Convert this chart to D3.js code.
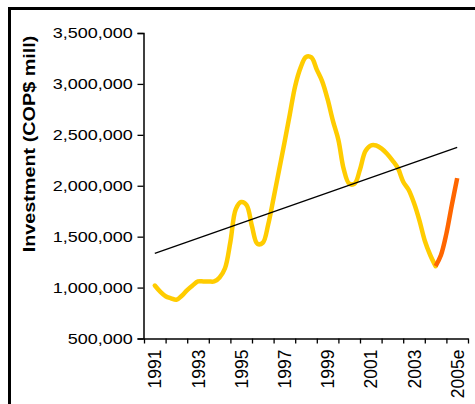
<!DOCTYPE html>
<html>
<head>
<meta charset="utf-8">
<script src="https://cdn.jsdelivr.net/npm/d3@7/dist/d3.min.js"></script>
<style>
  html, body { margin: 0; padding: 0; background: #fff; }
  svg { display: block; }
  text { font-family: "Liberation Sans", Arial, sans-serif; fill: #000; }
</style>
</head>
<body>
<svg id="chart" width="475" height="404"></svg>
<script>
// Yearly categories on the horizontal axis (2005 is an estimate)
const years = ["1991","1992","1993","1994","1995","1996","1997","1998","1999","2000","2001","2002","2003","2004","2005e"];
const labelledYears = ["1991","1993","1995","1997","1999","2001","2003","2005e"];
const yTicks = [500000, 1000000, 1500000, 2000000, 2500000, 3000000, 3500000];

// Quarterly investment (COP$ mill), starting mid-1991
const actualValues = [
  1020000, 960000, 915000, 895000, 880000, 920000, 975000, 1020000,
  1060000, 1060000, 1060000, 1060000, 1100000, 1190000, 1450000, 1770000,
  1840000, 1810000, 1600000, 1430000, 1440000, 1620000, 1880000, 2150000,
  2420000, 2700000, 2980000, 3160000, 3265000, 3260000, 3140000, 3025000,
  2850000, 2635000, 2450000, 2160000, 2020000, 2020000, 2160000, 2340000,
  2395000, 2395000, 2365000, 2315000, 2250000, 2175000, 2040000, 1960000,
  1830000, 1660000, 1460000, 1320000, 1210000
];
// Estimated continuation from mid-2004 (first value repeats the last actual one)
const estimateValues = [1210000, 1320000, 1530000, 1810000, 2075000];

const svg = d3.select("#chart");

// Outer frame
svg.append("rect")
  .attr("x", 9.5).attr("y", 8.5)
  .attr("width", 600).attr("height", 600)
  .attr("fill", "none").attr("stroke", "#000").attr("stroke-width", 3);

const plot = { left: 144, right: 468, top: 33, bottom: 338.5 };

const y = d3.scaleLinear().domain([500000, 3500000]).range([plot.bottom, plot.top]);
const xBand = d3.scaleBand().domain(years).range([plot.left, plot.right]).padding(0);
// continuous position in years since the start of 1991
const xPos = d3.scaleLinear().domain([0, years.length]).range([plot.left, plot.right]);

const startOffset = 0.5, step = 0.25;
const actual = actualValues.map((v, i) => ({ t: startOffset + i * step, v }));
const estimate = estimateValues.map((v, i) => ({ t: startOffset + (actualValues.length - 1 + i) * step, v }));

// Y axis
const yAxis = svg.append("g")
  .attr("transform", `translate(${plot.left - 0.5},0)`)
  .call(d3.axisLeft(y).tickValues(yTicks).tickFormat(d3.format(",")).tickSize(6).tickPadding(3));
yAxis.select(".domain").attr("stroke", "#000").attr("stroke-width", 1.5);
yAxis.selectAll(".tick line").attr("stroke", "#000").attr("stroke-width", 1.3);
yAxis.selectAll(".tick text")
  .attr("font-size", 15)
  .attr("fill", "#000")
  .attr("transform", "scale(1.2,1)");

// X axis: ticks between categories
const xAxis = svg.append("g")
  .attr("transform", `translate(0,${plot.bottom})`)
  .call(d3.axisBottom(xPos).tickValues(d3.range(0, years.length + 1)).tickFormat("").tickSize(5).tickSizeOuter(0));
xAxis.select(".domain").attr("stroke", "#000").attr("stroke-width", 1.5);
xAxis.selectAll(".tick line").attr("stroke", "#000").attr("stroke-width", 1.3);

svg.append("g").selectAll("text")
  .data(labelledYears)
  .join("text")
  .attr("transform", d => `translate(${xBand(d) + xBand.bandwidth() / 2 + 6.5},${plot.bottom + 11}) rotate(-90)`)
  .attr("text-anchor", "end")
  .attr("font-size", 17.5)
  .text(d => d);

// Y axis title
svg.append("text")
  .attr("transform", "translate(35,144) rotate(-90) scale(1.2,1)")
  .attr("text-anchor", "middle")
  .attr("font-size", 16.5)
  .attr("font-weight", "bold")
  .text("Investment (COP$ mill)");

// Linear trend over the whole series
const all = actual.concat(estimate.slice(1));
const n = all.length;
const mt = d3.mean(all, d => d.t), mv = d3.mean(all, d => d.v);
const slope = d3.sum(all, d => (d.t - mt) * (d.v - mv)) / d3.sum(all, d => (d.t - mt) ** 2);
const intercept = mv - slope * mt;
const t0 = all[0].t, t1 = all[n - 1].t;

const line = d3.line().x(d => xPos(d.t)).y(d => y(d.v)).curve(d3.curveCatmullRom.alpha(0.5));

svg.append("path")
  .datum(actual)
  .attr("d", line)
  .attr("fill", "none")
  .attr("stroke", "#FFCC00")
  .attr("stroke-width", 4.5)
  .attr("stroke-linejoin", "round")
  .attr("stroke-linecap", "round");

svg.append("path")
  .datum(estimate)
  .attr("d", line)
  .attr("fill", "none")
  .attr("stroke", "#FF6600")
  .attr("stroke-width", 4.5)
  .attr("stroke-linejoin", "round");

svg.append("line")
  .attr("x1", xPos(t0)).attr("y1", y(intercept + slope * t0))
  .attr("x2", xPos(t1)).attr("y2", y(intercept + slope * t1))
  .attr("stroke", "#000").attr("stroke-width", 1.3);
</script>
</body>
</html>
